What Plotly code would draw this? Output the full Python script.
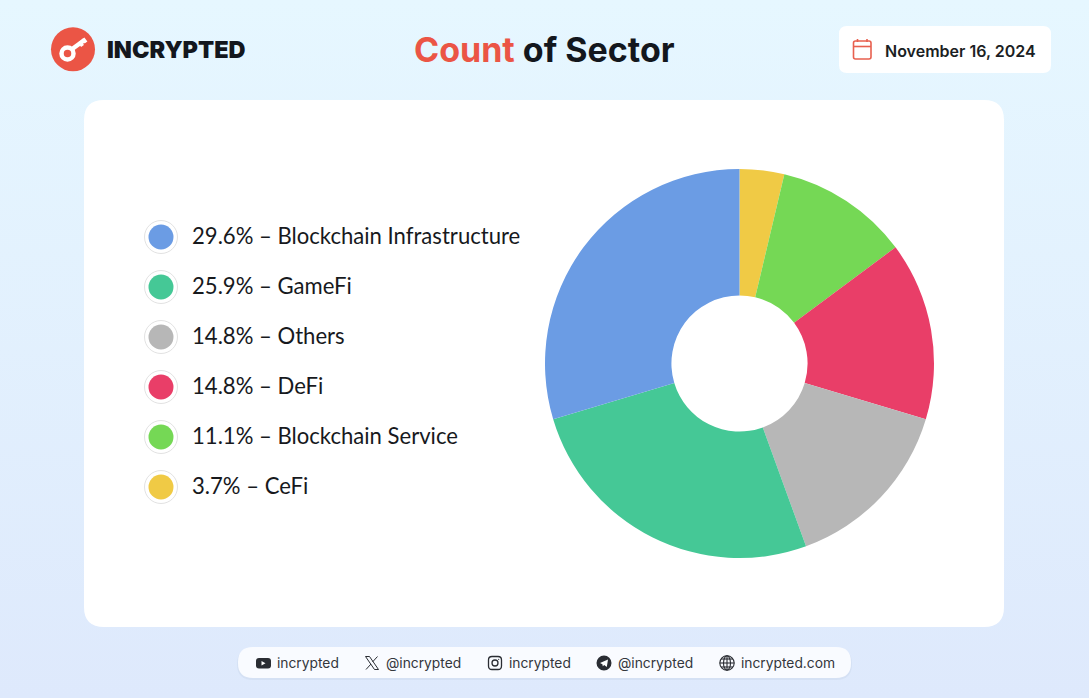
import base64
import plotly.graph_objects as go

# slices clockwise from 12 o'clock
pie_labels = ['CeFi', 'Blockchain Service', 'DeFi', 'Others', 'GameFi', 'Blockchain Infrastructure']
pie_values = [3.7, 11.1, 14.8, 14.8, 25.9, 29.6]
pie_colors = ['#F0CA45', '#75D855', '#E93E68', '#B7B7B7', '#45C896', '#6B9CE4']

# legend runs the other way round
legend_labels = pie_labels[::-1]
legend_values = pie_values[::-1]
legend_colors = pie_colors[::-1]

footer_labels = ['incrypted', '@incrypted', 'incrypted', '@incrypted', 'incrypted.com']
footer_x = [275.5, 384.5, 507.5, 616.5, 739.5]

W, H = 1089, 698
RED = '#EB5545'
DARK = '#13171D'
ICON = '#2A2D33'


def rounded(x0, y0, x1, y1, r):
    return (f'M{x0+r},{y0} L{x1-r},{y0} Q{x1},{y0} {x1},{y0+r} L{x1},{y1-r} Q{x1},{y1} {x1-r},{y1} '
            f'L{x0+r},{y1} Q{x0},{y1} {x0},{y1-r} L{x0},{y0+r} Q{x0},{y0} {x0+r},{y0} Z')


def box(path, fill='rgba(0,0,0,0)', color=None, width=0, opacity=1):
    return dict(type='path', path=path, fillcolor=fill, opacity=opacity, layer='below',
                line=dict(color=color, width=width))


def circle(cx, cy, r, fill='rgba(0,0,0,0)', color=None, width=0):
    return dict(type='circle', x0=cx-r, x1=cx+r, y0=cy-r, y1=cy+r, fillcolor=fill, layer='below',
                line=dict(color=color, width=width))


def line(x0, y0, x1, y1, color, width):
    return dict(type='line', x0=x0, y0=y0, x1=x1, y1=y1, layer='below',
                line=dict(color=color, width=width))


def label(x, y, text, size, color, family='Inter', anchor='left', weight=None):
    return dict(x=x, y=y, text=text, showarrow=False, xanchor=anchor, yanchor='middle', borderpad=0,
                font=dict(family=family, size=size, color=color, weight=weight))


svg = ('<svg xmlns="http://www.w3.org/2000/svg" width="1089" height="698"><defs>'
       '<linearGradient id="g" x1="0" y1="0" x2="0" y2="1">'
       '<stop offset="0" stop-color="#E6F7FF"/><stop offset="1" stop-color="#DEE9FC"/>'
       '</linearGradient></defs><rect width="1089" height="698" fill="url(#g)"/></svg>')
bg_src = 'data:image/svg+xml;base64,' + base64.b64encode(svg.encode()).decode()

shapes = [
    box(rounded(84, 100, 1004, 627, 20), '#FFFFFF'),
    box(rounded(839, 26, 1051, 73, 8), '#FFFFFF'),
    box(rounded(237, 648, 852, 680, 16), '#C9D6EC', opacity=0.45),
    box(rounded(238, 647, 851, 678, 15), '#F9FBFF'),
    # logo
    circle(73, 49.3, 22, RED),
    circle(67.5, 53.5, 6, color='#FFFFFF', width=4.5),
    line(71.5, 49.5, 84.5, 40, '#FFFFFF', 4.5),
    line(79.5, 41.5, 82.5, 46, '#FFFFFF', 3.5),
    line(83, 38.5, 86, 42.5, '#FFFFFF', 3.5),
    # calendar
    box(rounded(853.5, 41, 871, 59, 2), color='#E8604F', width=1.6),
    line(853.5, 46.5, 871, 46.5, '#E8604F', 1.6),
    line(857.5, 39, 857.5, 42, '#E8604F', 1.6),
    line(867, 39, 867, 42, '#E8604F', 1.6),
    # youtube
    box(rounded(256, 658, 271, 668.5, 3), ICON),
    box('M261.5,661 L261.5,665.5 L265.5,663.2 Z', '#FFFFFF'),
    # x
    box('M365.5,656.5 L369.5,656.5 L378.5,669.5 L374.5,669.5 Z', color=ICON, width=1),
    line(377.5, 656.5, 372.5, 662, ICON, 1),
    line(371, 664, 366, 669.5, ICON, 1),
    # instagram
    box(rounded(488.5, 656.5, 501.5, 669.5, 3.5), color=ICON, width=1.3),
    circle(495, 663, 3, color=ICON, width=1.3),
    circle(498.7, 659.3, 0.6, ICON),
    # telegram
    circle(604, 663, 7.5, ICON),
    box('M600,663 L608,659.5 L606.8,667 L604.2,665 L602.8,666.3 L602.4,664.3 Z', '#FFFFFF'),
    # globe
    circle(727, 663, 7.2, color=ICON, width=1.1),
    dict(type='circle', x0=723.5, x1=730.5, y0=655.8, y1=670.2, layer='below',
         line=dict(color=ICON, width=1.1)),
    line(727, 655.8, 727, 670.2, ICON, 1.1),
    line(719.8, 663, 734.2, 663, ICON, 1.1),
    line(721, 659, 733, 659, ICON, 1.1),
    line(721, 667, 733, 667, ICON, 1.1),
]

annotations = [
    label(106, 49, 'INCRYPTED', 23.5, DARK, 'Inter', weight=900),
    label(544.5, 49.5, f'<span style="color:{RED}">Count</span> of Sector', 34, DARK, anchor='center', weight=700),
    label(884, 51, 'November 16, 2024', 16, '#1B1E23', weight=600),
]
for x, t in zip(footer_x, footer_labels):
    annotations.append(label(x, 662.5, t, 13.8, '#33363B'))

legend_y = [237 + 50 * i for i in range(len(legend_labels))]
for y, v, t in zip(legend_y, legend_values, legend_labels):
    annotations.append(label(191, y - 1.5, f'{v}% – {t}', 22.1, '#17191D', 'Lato'))

fig = go.Figure()
fig.add_trace(go.Scatter(x=[161] * len(legend_y), y=legend_y, mode='markers', hoverinfo='skip',
                         marker=dict(size=33, color='#FFFFFF', line=dict(color='#E2E2E2', width=1))))
fig.add_trace(go.Scatter(x=[161] * len(legend_y), y=legend_y, mode='markers', hoverinfo='skip',
                         marker=dict(size=25, color=legend_colors)))
fig.add_trace(go.Pie(labels=pie_labels, values=pie_values, sort=False, direction='clockwise',
                     rotation=0, hole=0.35, textinfo='none', hoverinfo='label+percent',
                     marker=dict(colors=pie_colors, line=dict(width=0)),
                     domain=dict(x=[545 / W, 934 / W], y=[1 - 558 / H, 1 - 169 / H])))

fig.update_xaxes(range=[0, W], visible=False, fixedrange=True)
fig.update_yaxes(range=[H, 0], visible=False, fixedrange=True)
fig.update_layout(width=W, height=H, margin=dict(l=0, r=0, t=0, b=0), showlegend=False,
                  paper_bgcolor='#E3F0FE', plot_bgcolor='rgba(0,0,0,0)',
                  shapes=shapes, annotations=annotations,
                  images=[dict(source=bg_src, xref='paper', yref='paper', x=0, y=1, sizex=1, sizey=1,
                               xanchor='left', yanchor='top', sizing='stretch', layer='below')])

fig.write_html('out.html', config={'displayModeBar': False},
               post_script="document.body.style.margin='0';")
